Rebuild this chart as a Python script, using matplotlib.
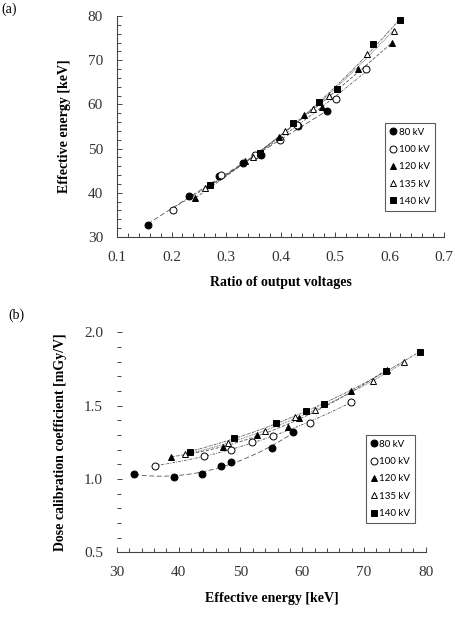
import numpy as np
import matplotlib.pyplot as plt
from matplotlib.ticker import MultipleLocator, FormatStrFormatter

# series labels
labels = ['80 kV', '100 kV', '120 kV', '135 kV', '140 kV']

# (a) ratio of output voltages vs effective energy
ratio_80 = [0.156, 0.233, 0.288, 0.332, 0.365, 0.433, 0.486]
ratio_100 = [0.203, 0.291, 0.353, 0.399, 0.430, 0.502, 0.556]
ratio_120 = [0.244, 0.335, 0.398, 0.443, 0.477, 0.543, 0.604]
ratio_135 = [0.261, 0.350, 0.409, 0.460, 0.489, 0.559, 0.609]
ratio_140 = [0.270, 0.362, 0.423, 0.470, 0.503, 0.570, 0.620]

energy_80 = [32.8, 39.2, 43.7, 46.8, 48.5, 55.1, 58.5]
energy_100 = [36.2, 44.1, 48.5, 51.9, 55.3, 61.2, 67.9]
energy_120 = [38.8, 47.1, 52.7, 57.7, 59.5, 67.9, 73.8]
energy_135 = [41.0, 48.0, 54.0, 58.9, 62.0, 71.5, 76.5]
energy_140 = [41.8, 49.0, 55.7, 60.6, 63.5, 73.6, 79.0]

# (b) dose calibration coefficient [mGy/V]
dose_80 = [1.034, 1.016, 1.036, 1.091, 1.114, 1.214, 1.318]
dose_100 = [1.089, 1.157, 1.200, 1.255, 1.291, 1.382, 1.527]
dose_120 = [1.152, 1.220, 1.300, 1.355, 1.416, 1.602, 1.745]
dose_135 = [1.168, 1.243, 1.327, 1.420, 1.468, 1.670, 1.795]
dose_140 = [1.186, 1.277, 1.380, 1.461, 1.511, 1.735, 1.868]

ratios = [ratio_80, ratio_100, ratio_120, ratio_135, ratio_140]
energies = [energy_80, energy_100, energy_120, energy_135, energy_140]
doses = [dose_80, dose_100, dose_120, dose_135, dose_140]

markers = ['o', 'o', '^', '^', 's']
faces = ['black', 'white', 'black', 'white', 'black']
sizes = [5.0, 5.0, 5.0, 5.0, 4.5]
dashes = [(0, (6, 3)), (0, (3, 1.5, 1, 1.5)), (0, (4, 2)), (0, (1, 1)), (0, (3, 1, 1, 1))]

serif = 'Liberation Serif'
sans = 'Lato'


def trend(ax, x, y, ls):
    # second order trendline, like the spreadsheet one
    c = np.polyfit(x, y, 2)
    xs = np.linspace(min(x), max(x), 100)
    ax.plot(xs, np.polyval(c, xs), color='#555555', lw=0.6, linestyle=ls, zorder=1)


def style_axis(ax):
    ax.spines['top'].set_visible(False)
    ax.spines['right'].set_visible(False)
    ax.spines['bottom'].set_color('#444444')
    ax.spines['left'].set_color('#444444')
    ax.tick_params(which='both', direction='in', color='#444444', width=0.7)
    ax.tick_params(which='major', length=3.5, labelsize=11, pad=10)
    ax.tick_params(which='minor', length=3)
    for t in ax.get_xticklabels() + ax.get_yticklabels():
        t.set_fontfamily(serif)
        t.set_color('#333333')


def add_legend(ax, loc):
    leg = ax.legend(loc='upper left', bbox_to_anchor=loc, frameon=True, fancybox=False,
                    handlelength=0.6, handletextpad=0.3, borderpad=0.5, labelspacing=0.85,
                    prop={'family': sans, 'size': 7}, borderaxespad=0)
    leg.get_frame().set_edgecolor('#333333')
    leg.get_frame().set_linewidth(0.8)


fig = plt.figure(figsize=(4.56, 6.17), dpi=100)

# ---- panel (a)
ax1 = fig.add_axes([117 / 456, 1 - 237 / 617, 327 / 456, 221 / 617])
for i in range(5):
    trend(ax1, ratios[i], energies[i], dashes[i])
    ax1.plot(ratios[i], energies[i], linestyle='none', marker=markers[i], ms=sizes[i],
             mfc=faces[i], mec='black', mew=0.7, label=labels[i], zorder=3)
ax1.set_xlim(0.1, 0.7)
ax1.set_ylim(30, 80)
ax1.xaxis.set_major_locator(MultipleLocator(0.1))
ax1.xaxis.set_minor_locator(MultipleLocator(0.02))
ax1.yaxis.set_major_locator(MultipleLocator(10))
ax1.yaxis.set_minor_locator(MultipleLocator(2))
ax1.xaxis.set_major_formatter(FormatStrFormatter('%.1f'))
style_axis(ax1)
ax1.set_xlabel('Ratio of output voltages', fontfamily=serif, fontweight='bold',
               fontsize=10, labelpad=9)
ax1.set_ylabel('Effective energy [keV]', fontfamily=serif, fontweight='bold',
               fontsize=10, labelpad=12)
add_legend(ax1, (0.821, 0.516))
fig.text(0.002, 0.985, '(a)', fontfamily=serif, fontsize=10, va='center')

# ---- panel (b)
ax2 = fig.add_axes([117 / 456, 1 - 552.3 / 617, 308.7 / 456, 220 / 617])
for i in range(5):
    trend(ax2, energies[i], doses[i], dashes[i])
    ax2.plot(energies[i], doses[i], linestyle='none', marker=markers[i], ms=sizes[i],
             mfc=faces[i], mec='black', mew=0.7, label=labels[i], zorder=3)
ax2.set_xlim(30, 80)
ax2.set_ylim(0.5, 2.0)
ax2.xaxis.set_major_locator(MultipleLocator(10))
ax2.xaxis.set_minor_locator(MultipleLocator(2))
ax2.yaxis.set_major_locator(MultipleLocator(0.5))
ax2.yaxis.set_minor_locator(MultipleLocator(0.1))
ax2.yaxis.set_major_formatter(FormatStrFormatter('%.1f'))
style_axis(ax2)
ax2.spines['left'].set_visible(False)
ax2.set_xlabel('Effective energy [keV]', fontfamily=serif, fontweight='bold',
               fontsize=10, labelpad=9)
ax2.set_ylabel('Dose calibration coefficient [mGy/V]', fontfamily=serif, fontweight='bold',
               fontsize=10, labelpad=12)
add_legend(ax2, (0.806, 0.533))
fig.text(0.018, 0.489, '(b)', fontfamily=serif, fontsize=10, va='center')

fig.savefig('out.png', dpi=100)
